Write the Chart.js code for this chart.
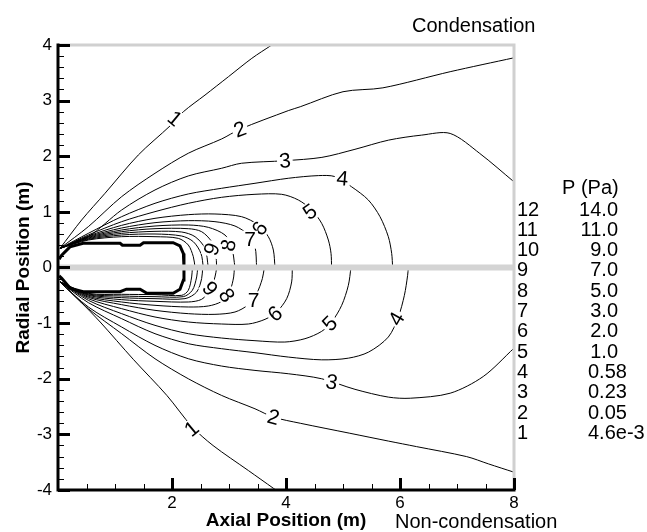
<!DOCTYPE html>
<html>
<head>
<meta charset="utf-8">
<script src="https://cdn.jsdelivr.net/npm/chart.js@4.4.1/dist/chart.umd.min.js"></script>
<style>
  html, body { margin: 0; padding: 0; background: #fff; }
</style>
</head>
<body>
<canvas id="plot" width="647" height="532"></canvas>
<script>
// contour lines, [axial m, radial m]
// upper half = condensation, lower half = non-condensation
const up1 = [[0.035,0.344],[0.415,0.854],[0.825,1.334],[1.409,2.023],[1.965,2.545],[2.199,2.80],[2.579,3.10],[2.99,3.43],[3.40,3.76],[3.75,4.0]];
const up2 = [[0.035,0.344],[0.532,0.734],[1.117,1.274],[1.702,1.694],[2.286,2.054],[2.871,2.311],[3.19,2.485],[4.04,2.82],[4.25,2.89],[5.0,3.16],[5.7,3.23],[6.88,3.52],[8.0,3.77]];
const up3 = [[0.035,0.344],[0.532,0.554],[1.117,1.034],[1.702,1.394],[2.286,1.646],[2.871,1.784],[3.22,1.874],[3.98,1.92],[4.63,1.98],[5.21,2.125],[5.80,2.29],[6.38,2.38],[6.88,2.41],[7.4,2.05],[8.0,1.54]];
const up4 = [[0.035,0.344],[0.532,0.614],[1.117,0.914],[1.702,1.154],[2.286,1.322],[2.871,1.424],[3.456,1.514],[4.04,1.604],[4.567,1.652],[4.86,1.634],[5.152,1.45],[5.444,1.214],[5.649,0.914],[5.795,0.554],[5.854,0.254],[5.871,0]];
const up5 = [[0.035,0.344],[0.532,0.584],[1.117,0.824],[1.702,1.004],[2.286,1.154],[2.871,1.262],[3.456,1.316],[3.924,1.316],[4.216,1.214],[4.45,1.034],[4.626,0.794],[4.743,0.494],[4.79,0.254],[4.80,0]];
const up6 = [[0.035,0.344],[0.532,0.566],[1.117,0.758],[1.702,0.884],[2.286,0.95],[2.754,0.962],[3.22,0.914],[3.515,0.764],[3.69,0.554],[3.778,0.314],[3.807,0]];
const up7 = [[0.035,0.344],[0.532,0.554],[1.117,0.71],[1.702,0.806],[2.286,0.842],[2.754,0.824],[3.105,0.746],[3.34,0.584],[3.456,0.374],[3.485,0]];
const up8 = [[0.035,0.344],[0.532,0.542],[1.117,0.674],[1.702,0.746],[2.286,0.764],[2.637,0.722],[2.93,0.584],[3.047,0.374],[3.105,0]];
const up9 = [[0.035,0.344],[0.532,0.53],[1.117,0.644],[1.702,0.698],[2.286,0.698],[2.52,0.644],[2.696,0.464],[2.766,0.254],[2.784,0]];
const up10 = [[0.035,0.344],[0.532,0.518],[1.117,0.614],[1.702,0.65],[2.17,0.638],[2.404,0.554],[2.579,0.344],[2.637,0]];
const up11 = [[0.035,0.344],[0.532,0.506],[1.117,0.584],[1.702,0.602],[2.17,0.566],[2.374,0.464],[2.508,0.254],[2.55,0]];
const up12 = [[0.035,0.344],[0.532,0.494],[1.117,0.554],[1.702,0.554],[2.111,0.524],[2.286,0.404],[2.374,0.194],[2.404,0]];

const lo1 = [[0.035,-0.26],[0.4,-0.62],[0.74,-0.98],[1.32,-1.65],[1.91,-2.3],[2.35,-2.86],[2.72,-3.2],[3.34,-3.65],[3.78,-3.97],[3.82,-4.0]];
const lo2 = [[0.035,-0.26],[0.532,-0.74],[1.117,-1.19],[1.702,-1.64],[2.286,-2.0],[2.871,-2.30],[3.456,-2.54],[3.78,-2.69],[4.25,-2.80],[5.12,-2.98],[5.795,-3.12],[6.29,-3.22],[7.17,-3.40],[7.55,-3.53],[8.0,-3.68]];
const lo3 = [[0.035,-0.26],[0.532,-0.71],[1.117,-1.07],[1.702,-1.40],[2.286,-1.64],[2.871,-1.772],[3.456,-1.85],[4.04,-1.91],[4.626,-2.0],[5.21,-2.19],[5.795,-2.33],[6.18,-2.35],[6.88,-2.26],[7.46,-1.96],[8.0,-1.45]];
const lo4 = [[0.035,-0.26],[0.532,-0.632],[1.117,-0.92],[1.702,-1.19],[2.286,-1.37],[2.871,-1.46],[3.456,-1.532],[4.04,-1.61],[4.626,-1.66],[5.094,-1.63],[5.45,-1.52],[5.795,-1.25],[5.97,-0.89],[6.077,-0.50],[6.134,-0.14],[6.146,0]];
const lo5 = [[0.035,-0.26],[0.532,-0.59],[1.117,-0.83],[1.702,-1.04],[2.286,-1.19],[2.871,-1.268],[3.456,-1.316],[3.98,-1.34],[4.333,-1.28],[4.626,-1.148],[4.801,-0.98],[4.977,-0.68],[5.094,-0.32],[5.14,0]];
const lo6 = [[0.035,-0.26],[0.532,-0.56],[1.117,-0.74],[1.702,-0.89],[2.286,-0.98],[2.871,-1.016],[3.34,-1.016],[3.632,-0.932],[3.836,-0.80],[4.012,-0.56],[4.099,-0.26],[4.111,0]];
const lo7 = [[0.035,-0.26],[0.532,-0.536],[1.117,-0.668],[1.702,-0.77],[2.286,-0.83],[2.754,-0.842],[3.105,-0.80],[3.34,-0.668],[3.485,-0.47],[3.585,-0.20],[3.62,0]];
const lo8 = [[0.035,-0.26],[0.532,-0.518],[1.117,-0.62],[1.702,-0.68],[2.286,-0.71],[2.637,-0.692],[2.871,-0.608],[3.018,-0.41],[3.082,-0.17],[3.094,0]];
const lo9 = [[0.035,-0.26],[0.532,-0.50],[1.117,-0.578],[1.702,-0.608],[2.286,-0.62],[2.52,-0.572],[2.667,-0.41],[2.754,-0.17],[2.784,0]];
const lo10 = [[0.035,-0.26],[0.532,-0.488],[1.117,-0.542],[1.702,-0.56],[2.228,-0.56],[2.433,-0.44],[2.52,-0.20],[2.538,0]];
const lo11 = [[0.035,-0.26],[0.532,-0.476],[1.117,-0.512],[1.702,-0.524],[2.199,-0.524],[2.357,-0.41],[2.433,-0.17],[2.45,0]];
const lo12 = [[0.035,-0.26],[0.532,-0.465],[1.117,-0.482],[1.702,-0.488],[2.17,-0.50],[2.286,-0.41],[2.345,-0.17],[2.357,0]];

// body outline
const bodyUp = [[0.02,0.15],[0.065,0.22],[0.21,0.37],[0.44,0.435],[1.09,0.435],[1.13,0.40],[1.44,0.40],[1.5,0.445],[2.02,0.445],[2.14,0.39],[2.2,0.25],[2.21,0]];
const bodyLo = [[0.02,-0.15],[0.065,-0.195],[0.21,-0.37],[0.44,-0.435],[1.09,-0.435],[1.2,-0.39],[1.44,-0.39],[1.56,-0.465],[2.02,-0.465],[2.14,-0.39],[2.2,-0.225],[2.21,0]];

// contour labels (level number at a point on the line)
const upLabelText = ["1","2","3","4","5","6","7","8","9"];
const upLabelX = [2.05, 3.19, 3.98, 4.99, 4.42, 3.54, 3.37, 2.99, 2.70];
const upLabelY = [2.68, 2.485, 1.92, 1.60, 1.0, 0.70, 0.50, 0.40, 0.33];
const loLabelText = ["1","2","3","4","5","6","7","8","9"];
const loLabelX = [2.345, 3.78, 4.80, 5.94, 4.77, 3.81, 3.43, 2.96, 2.667];
const loLabelY = [-2.90, -2.69, -2.06, -0.92, -1.01, -0.83, -0.59, -0.50, -0.38];

// level table
const levelIds = ["12","11","10","9","8","7","6","5","4","3","2","1"];
const levelValues = ["14.0","11.0","9.0","7.0","5.0","3.0","2.0","1.0","0.58","0.23","0.05","4.6e-3"];

const xTicks = [2, 4, 6, 8];

const FONT = "'Liberation Sans', Arial, Helvetica, sans-serif";
const upAngles = [40, -20, -5, 5, -35, -55, 0, -80, -70];
const loAngles = [-40, 15, 10, -60, -45, -40, 0, 55, 50];

function lineSet(points, width) {
  return {
    data: points.map(p => ({ x: p[0], y: p[1] })),
    showLine: true,
    borderColor: "#000",
    borderWidth: width,
    pointRadius: 0,
    tension: width > 1 ? 0 : 0.3,
  };
}

const contours = [up1, up2, up3, up4, up5, up6, up7, up8, up9, up10, up11, up12,
                  lo1, lo2, lo3, lo4, lo5, lo6, lo7, lo8, lo9, lo10, lo11, lo12];
const datasets = contours.map(c => lineSet(c, 1));
datasets.push(lineSet(bodyUp, 3));
datasets.push(lineSet(bodyLo, 3));

function drawLabels(ctx, x, y, texts, xs, ys, angles) {
  ctx.font = "21px " + FONT;
  ctx.textAlign = "center";
  ctx.textBaseline = "middle";
  texts.forEach((t, i) => {
    const px = x.getPixelForValue(xs[i]);
    const py = y.getPixelForValue(ys[i]);
    ctx.save();
    ctx.translate(px, py);
    ctx.rotate(angles[i] * Math.PI / 180);
    const w = ctx.measureText(t).width;
    ctx.fillStyle = "#fff";
    ctx.fillRect(-w / 2 - 2, -9, w + 4, 18);
    ctx.fillStyle = "#000";
    ctx.fillText(t, 0, 1);
    ctx.restore();
  });
}

const frame = {
  id: "frame",
  afterDatasetsDraw(chart) {
    const { ctx, chartArea: a, scales: { x, y } } = chart;
    ctx.save();

    // symmetry line
    const y0 = y.getPixelForValue(0);
    ctx.fillStyle = "#d4d4d4";
    ctx.fillRect(a.left, y0 - 3, a.right - a.left, 6);

    drawLabels(ctx, x, y, upLabelText, upLabelX, upLabelY, upAngles);
    drawLabels(ctx, x, y, loLabelText, loLabelX, loLabelY, loAngles);

    // top and right frame
    ctx.strokeStyle = "#d0d0d0";
    ctx.lineWidth = 3;
    ctx.beginPath();
    ctx.moveTo(a.left, a.top);
    ctx.lineTo(a.right, a.top);
    ctx.lineTo(a.right, a.bottom);
    ctx.stroke();

    // axes
    ctx.strokeStyle = "#000";
    ctx.beginPath();
    ctx.moveTo(a.left, a.top - 1.5);
    ctx.lineTo(a.left, a.bottom);
    ctx.lineTo(a.right + 1.5, a.bottom);
    ctx.stroke();

    // ticks, pointing inward
    for (let v = -4; v <= 4.001; v += 0.2) {
      const py = Math.round(y.getPixelForValue(v)) + 0.5;
      const major = Math.abs(v - Math.round(v)) < 0.01;
      ctx.lineWidth = major ? 3 : 1;
      ctx.beginPath();
      ctx.moveTo(a.left, py);
      ctx.lineTo(a.left + (major ? 12 : 6), py);
      ctx.stroke();
    }
    for (let v = 0.5; v <= 8.001; v += 0.5) {
      const px = Math.round(x.getPixelForValue(v)) + 0.5;
      const major = xTicks.includes(v);
      ctx.lineWidth = major ? 3 : 1;
      ctx.beginPath();
      ctx.moveTo(px, a.bottom);
      ctx.lineTo(px, a.bottom - (major ? 12 : 6));
      ctx.stroke();
    }
    ctx.restore();
  },
  afterDraw(chart) {
    const ctx = chart.ctx;
    ctx.save();
    ctx.fillStyle = "#000";
    ctx.textBaseline = "alphabetic";
    ctx.font = "20px " + FONT;
    ctx.textAlign = "left";
    ctx.fillText("Condensation", 412, 32);
    ctx.fillText("Non-condensation", 395, 528);

    ctx.font = "20px " + FONT;
    ctx.textBaseline = "middle";
    ctx.fillText("P (Pa)", 562, 188);
    levelIds.forEach((id, i) => {
      const py = 210 + i * 20.3;
      ctx.textAlign = "left";
      ctx.fillText(id, 517, py);
      const val = levelValues[i];
      if (val.endsWith(".0")) {
        ctx.textAlign = "right";
        ctx.fillText(val, 618, py);
      } else {
        ctx.fillText(val, 588, py);
      }
    });
    ctx.restore();
  }
};

new Chart(document.getElementById("plot"), {
  type: "scatter",
  data: { datasets },
  options: {
    responsive: false,
    animation: false,
    devicePixelRatio: 1,
    events: [],
    layout: { padding: { left: 0, top: 45, right: 133, bottom: 0 } },
    plugins: { legend: { display: false }, tooltip: { enabled: false } },
    scales: {
      x: {
        type: "linear",
        min: 0,
        max: 8,
        afterBuildTicks: s => { s.ticks = xTicks.map(v => ({ value: v })); },
        afterFit: s => { s.height = 42; },
        grid: { display: false, drawTicks: false },
        border: { display: false },
        ticks: { font: { family: FONT, size: 17 }, color: "#000", padding: 3, maxRotation: 0, autoSkip: false },
        title: { display: true, text: "Axial Position (m)", color: "#000",
                 font: { family: FONT, size: 19, weight: "bold" }, padding: { top: 0, bottom: 0 } }
      },
      y: {
        type: "linear",
        min: -4,
        max: 4,
        afterFit: s => { s.width = 58; },
        grid: { display: false, drawTicks: false },
        border: { display: false },
        ticks: { stepSize: 1, font: { family: FONT, size: 17 }, color: "#000", padding: 6 },
        title: { display: true, text: "Radial Position (m)", color: "#000",
                 font: { family: FONT, size: 19, weight: "bold" }, padding: { top: 12, bottom: 0 } }
      }
    }
  },
  plugins: [frame]
});
</script>
</body>
</html>
